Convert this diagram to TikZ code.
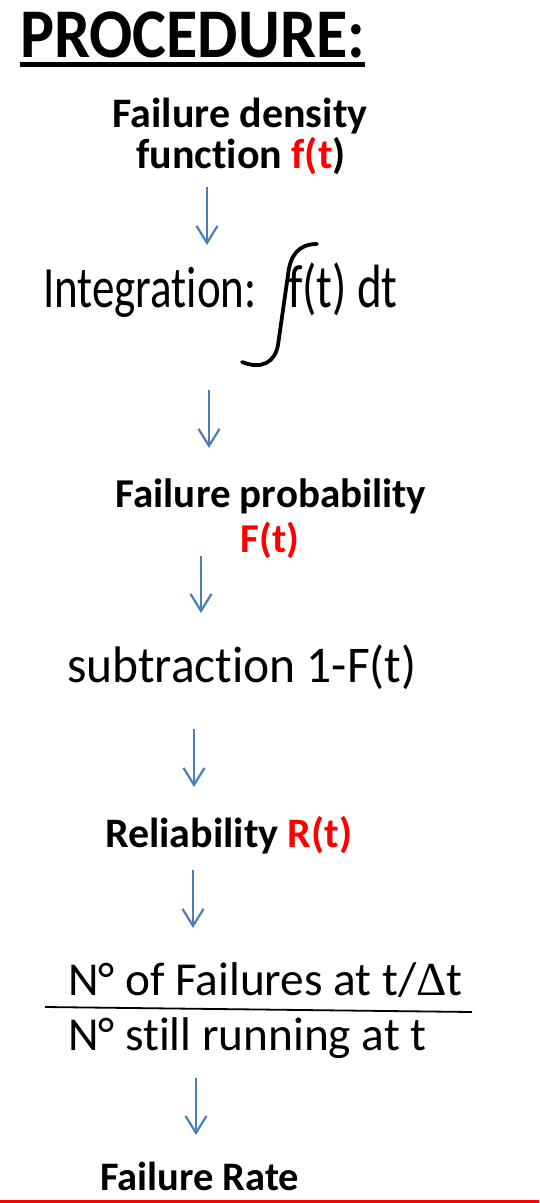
\documentclass[tikz,border=0pt]{standalone}
\usepackage{fontspec}
\setmainfont{Carlito}[Ligatures={NoCommon,NoContextual},RawFeature={-liga;-clig;-dlig}]
\newfontfamily\grk{Liberation Serif}
\usetikzlibrary{arrows.meta}
\definecolor{arrowblue}{RGB}{74,126,187}
\definecolor{pred}{RGB}{255,0,0}
\newcommand{\fsz}[1]{\fontsize{#1}{#1}\selectfont}
\newcommand{\nolig}{\kern0pt }
\begin{document}
\begin{tikzpicture}[x=1pt,y=-1pt,
  lbl/.style={inner sep=0pt, outer sep=0pt, anchor=base},
  lblw/.style={inner sep=0pt, outer sep=0pt, anchor=base west},
  arr/.style={draw=arrowblue, line width=2.2pt, -{Straight Barb[length=17pt,width=21pt,line width=2.2pt]}},
  ]
\useasboundingbox (0,0) rectangle (539,1203);

% title
\node[lbl, font={\bfseries\fsz{64}}] (title) at (192.5,57) {\scalebox{1}[1.09]{PROCEDURE:}};
\draw[line width=5pt] ([yshift=-7pt]title.base west) -- ([yshift=-7pt]title.base east);

% failure density
\node[lbl, font={\bfseries\fsz{42}}] (fd1) at (240,127) {Failure density};
\node[lbl, font={\bfseries\fsz{42}}] (fd2) at (241,168) {funct\nolig ion \textcolor{pred}{f(t})};

% integration
\node[lblw, font=\fsz{45}] (int1) at (43,307) {\scalebox{1}[1.3]{Integrat\nolig ion:}};
\node[lblw, font=\fsz{47}] (int2) at (288,307) {\scalebox{1}[1.3]{f(t) dt}};
\draw[line width=3.8pt, line cap=round] (317,244) .. controls (298,244) and (290,256) .. (288,275)
  -- (278,345) .. controls (275,362) and (262,370) .. (242,362);

% failure probability
\node[lbl, font={\bfseries\fsz{41}}] (fp1) at (271,507) {Failure probability};
\node[lbl, font={\bfseries\fsz{41}}, text=pred] (fp2) at (270,552) {F(t)};

% subtraction
\node[lblw, font=\fsz{49.5}] (sub) at (67,682) {\scalebox{1}[1.04]{subtract\nolig ion 1-F(t)}};

% reliability
\node[lblw, font={\bfseries\fsz{42}}] (rel) at (105,847) {Reliability \textcolor{pred}{R(t)}};

% fraction
\node[lblw, font=\fsz{47.3}] (num) at (68,995) {N° of Failures at t/{\grk Δ}t};
\node[lblw, font=\fsz{47.3}] (den) at (68,1050) {N° st\nolig ill running at t};
\draw[line width=1.8pt] (45,1007) -- (472,1012);

% failure rate
\node[lblw, font={\bfseries\fsz{40.5}}] (fr) at (100,1190) {Failure Rate};
\fill[pred] (0,1200) rectangle (539,1203);

% arrows
\coordinate (a1s) at (207,187); \coordinate (a1e) at (207,245);
\coordinate (a2s) at (209,390); \coordinate (a2e) at (209,448);
\coordinate (a3s) at (201,556); \coordinate (a3e) at (201,613);
\coordinate (a4s) at (194,729); \coordinate (a4e) at (194,787);
\coordinate (a5s) at (193,870); \coordinate (a5e) at (193,928);
\coordinate (a6s) at (196,1078); \coordinate (a6e) at (196,1135);
\draw[arr] (a1s) -- (a1e);
\draw[arr] (a2s) -- (a2e);
\draw[arr] (a3s) -- (a3e);
\draw[arr] (a4s) -- (a4e);
\draw[arr] (a5s) -- (a5e);
\draw[arr] (a6s) -- (a6e);
\end{tikzpicture}
\end{document}
